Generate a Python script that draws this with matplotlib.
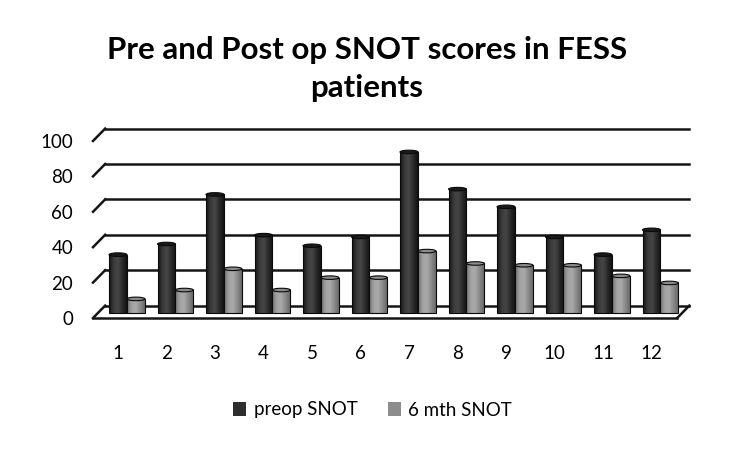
import numpy as np
import matplotlib
matplotlib.use("Agg")
import matplotlib.pyplot as plt
from matplotlib.patches import Ellipse, Patch
from matplotlib.colors import LinearSegmentedColormap

plt.rcParams['font.family'] = ['Lato', 'DejaVu Sans']

categories = ['1', '2', '3', '4', '5', '6', '7', '8', '9', '10', '11', '12']
preop = [33, 39, 67, 44, 38, 43, 91, 70, 60, 43, 33, 47]
post6 = [8, 13, 25, 13, 20, 20, 35, 28, 27, 27, 21, 17]
series_names = ['preop SNOT', '6 mth SNOT']
yticks = [0, 20, 40, 60, 80, 100]
title = 'Pre and Post op SNOT scores in FESS\npatients'

W, H = 738, 450
fig = plt.figure(figsize=(W / 100, H / 100), dpi=100)
# axes in pixel terms: left 80, right 700, top 110, bottom 330
ax = fig.add_axes([80 / W, 1 - 330 / H, 620 / W, 220 / H])
ax.set_xlim(0.2165, 13.0)
ax.set_ylim(-6.78, 117.5)
for s in ax.spines.values():
    s.set_visible(False)

x = np.arange(1, len(categories) + 1)
depth_dy = 7.0     # back wall offset (value units)
depth_dx = 0.25    # back wall offset (category units)
x_front_l, x_front_r = 0.485, 12.53
line_col = '#151515'

# back-wall gridlines with left diagonals
for v in yticks:
    ax.plot([x_front_l, x_front_l + depth_dx], [v, v + depth_dy], color=line_col, lw=1.8, zorder=1)
    ax.plot([x_front_l + depth_dx, x_front_r + depth_dx], [v + depth_dy, v + depth_dy],
            color=line_col, lw=1.8, zorder=1)
# floor front + right side
ax.plot([x_front_l, x_front_r], [0, 0], color=line_col, lw=1.8, zorder=1, clip_on=False)
ax.plot([x_front_r, x_front_r + depth_dx], [0, depth_dy], color=line_col, lw=1.8, zorder=1)

base = 2.8
bw = 0.37
dark_cmap = LinearSegmentedColormap.from_list('d', ['#151515', '#3a3a3a', '#474747', '#2a2a2a', '#121212'])
light_cmap = LinearSegmentedColormap.from_list('l', ['#6e6e6e', '#a2a2a2', '#aaaaaa', '#8a8a8a', '#6a6a6a'])
grad = np.linspace(0, 1, 64).reshape(1, -1)

def draw_series(xs, vals, cmap, topcol, z):
    bars = ax.bar(xs, vals, width=bw, bottom=base, color='none', edgecolor='#0a0a0a',
                  linewidth=0.8, zorder=z + 0.2)
    for b in bars:
        x0, y0 = b.get_x(), b.get_y()
        w, h = b.get_width(), b.get_height()
        im = ax.imshow(grad, cmap=cmap, aspect='auto', extent=[x0, x0 + w, y0, y0 + h],
                       zorder=z, interpolation='bicubic')
        im.set_clip_path(b)
        ax.add_patch(Ellipse((x0 + w / 2, y0 + h), w, 2.0, facecolor=topcol,
                             edgecolor='#0a0a0a', lw=0.8, zorder=z + 0.3))

draw_series(x, preop, dark_cmap, '#1a1a1a', 3)
draw_series(x + 0.37, post6, light_cmap, '#8a8a8a', 4)

ax.set_xticks(x)
ax.set_xticklabels(categories, fontsize=13.5)
ax.set_yticks(yticks)
ax.set_yticklabels([str(t) for t in yticks], fontsize=13.5)
ax.tick_params(axis='both', length=0, colors='black')
ax.tick_params(axis='y', pad=5)
ax.tick_params(axis='x', pad=11)

fig.text(0.497, 1 - 69 / H, title, ha='center', va='center', fontsize=22.5,
         fontweight='bold', linespacing=1.45)

handles = [Patch(facecolor='#2e2e2e', edgecolor='none'), Patch(facecolor='#8c8c8c', edgecolor='none')]
fig.legend(handles, series_names, loc='center', bbox_to_anchor=(0.505, 1 - 410 / H), ncol=2,
           frameon=False, fontsize=13.5, handlelength=0.7, handleheight=0.7,
           handletextpad=0.4, columnspacing=1.6)

fig.savefig('out.png', dpi=100, facecolor='white')
